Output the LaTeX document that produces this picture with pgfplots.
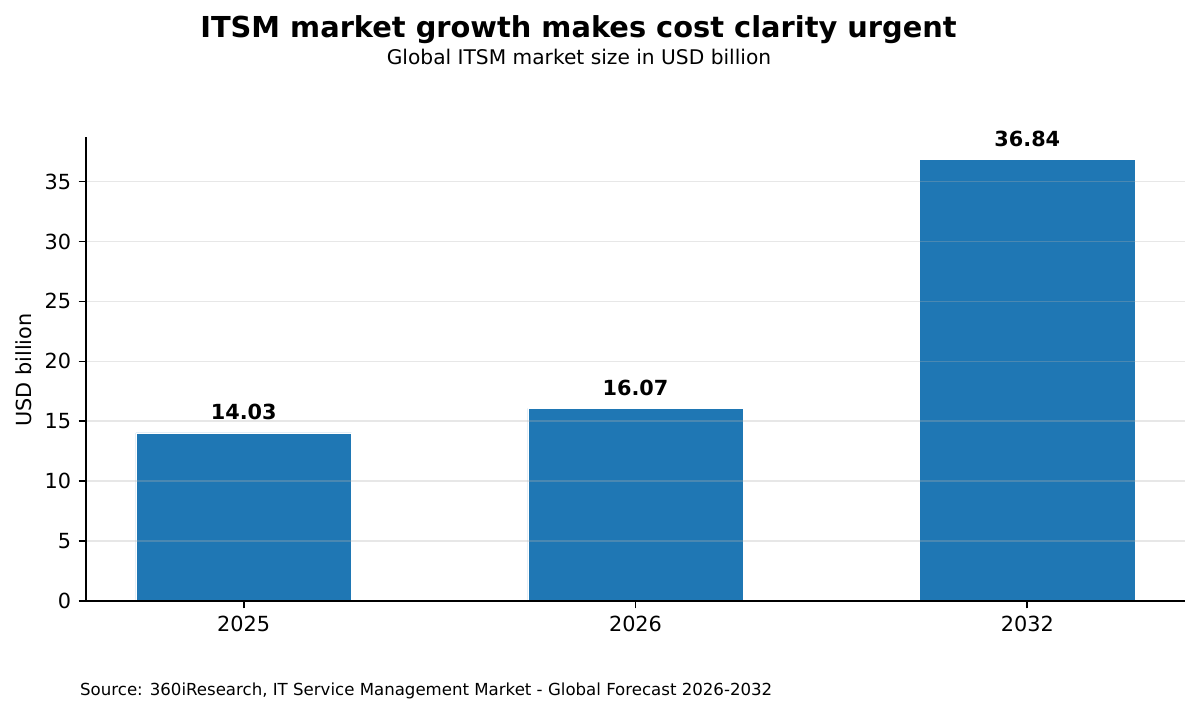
\documentclass[border=0pt]{standalone}
\usepackage{fontspec}
\setmainfont{DejaVu Sans}
\usepackage{pgfplots}
\pgfplotsset{compat=1.18}
\definecolor{barblue}{HTML}{1F77B4}
\definecolor{gridgray}{HTML}{B0B0B0}
\begin{document}
\begin{tikzpicture}
\path[use as bounding box] (0,0) rectangle (1200bp,714bp);
\begin{axis}[
  at={(86bp,113bp)}, anchor=south west,
  scale only axis, width=1099bp, height=463.5bp,
  xmin=-0.4025, xmax=2.4025, ymin=0, ymax=38.68,
  ybar,
  axis x line*=bottom, axis y line*=left,
  xtick pos=bottom, ytick pos=left,
  axis line style={black, line width=1.67bp},
  xtick={0,1,2}, xticklabels={2025,2026,2032},
  ytick={0,5,10,15,20,25,30,35},
  tick align=outside, major tick length=7.3bp,
  every tick/.style={black, line width=1.67bp},
  /pgf/number format/assume math mode=true,
  tick label style={font=\fontsize{20.8bp}{25bp}\selectfont, inner sep=0pt},
  xticklabel style={anchor=north, yshift=-7.3bp},
  yticklabel style={anchor=east, xshift=-7.3bp},
  ymajorgrids, grid style={gridgray, opacity=0.3, line width=1.67bp},
  axis on top,
  ylabel={USD billion},
  ylabel style={font=\fontsize{20.8bp}{25bp}\selectfont, at={(axis description cs:-0.0494,0.498)}, anchor=base, inner sep=0pt},
  clip=false,
]
\addplot[ybar, bar width=0.55, fill=barblue, draw=white, line width=0.5bp,
  nodes near coords={\pgfmathprintnumber[assume math mode=true, fixed, fixed zerofill, precision=2]{\pgfplotspointmeta}},
  nodes near coords style={font=\bfseries\fontsize{20.8bp}{25bp}\selectfont, anchor=base, yshift=13.3bp, inner sep=0pt, black}]
  coordinates {(0,14.03) (1,16.07) (2,36.84)};
\end{axis}
\node[anchor=base, inner sep=0pt, font=\bfseries\fontsize{28.85bp}{34bp}\selectfont] at (578.5bp,676.3bp) {ITSM market growth makes cost clarity urgent};
\node[anchor=base, inner sep=0pt, font=\fontsize{20.2bp}{24bp}\selectfont] at (579bp,649bp) {Global ITSM market size in USD billion};
\node[anchor=base west, inner sep=0pt, font=\fontsize{16.6bp}{20bp}\selectfont] at (80bp,19bp) {Source: 360iResearch, IT Service Management Market - Global Forecast 2026-2032};
\end{tikzpicture}
\end{document}
